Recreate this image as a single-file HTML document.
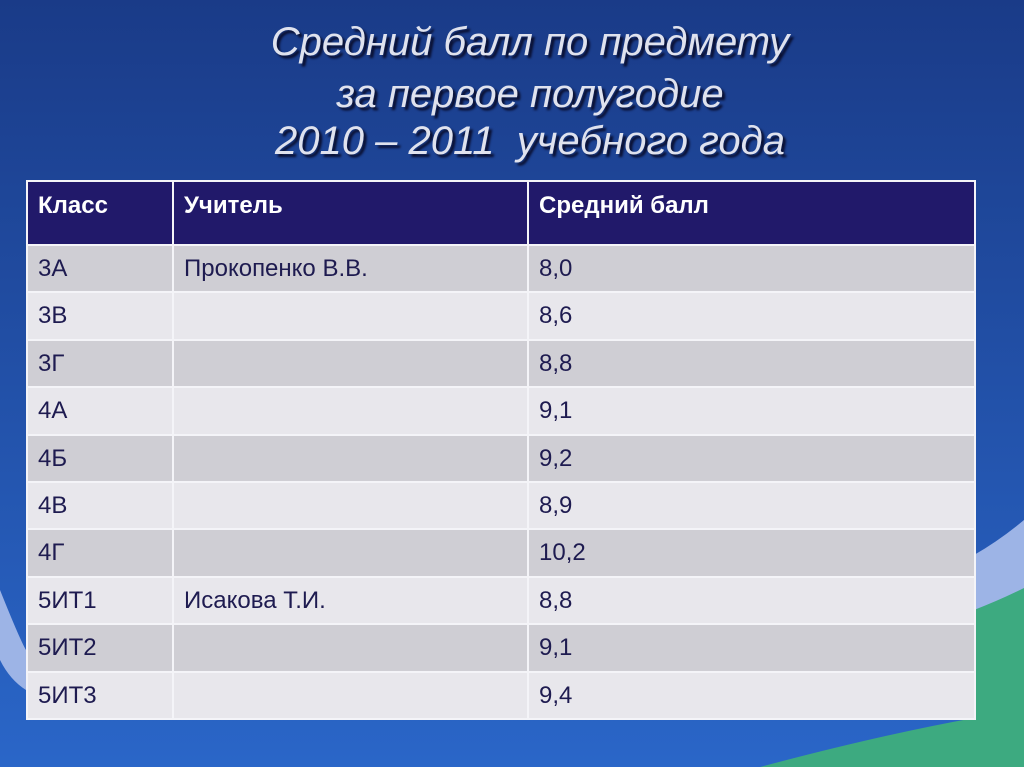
<!DOCTYPE html>
<html><head><meta charset="utf-8"><style>
body{margin:0;width:1024px;height:767px;overflow:hidden;font-family:"Liberation Sans","Noto Sans CJK SC",sans-serif;}
#bg{position:absolute;left:0;top:0}
.title{position:absolute;left:0;width:1060px;text-align:center;font-style:italic;font-size:40px;color:#dfe2ee;text-shadow:3px 3px 2px #0a0f30;}
table{position:absolute;left:26px;top:180px;border-collapse:collapse;}
td{border:2px solid #f4f4f8;font-size:24px;color:#1e1b50;padding:0 0 0 10px;vertical-align:top;padding-top:9px;box-sizing:border-box;height:47.4px;}
tr.h td{background:#21196a;color:#fff;font-weight:bold;height:64px;padding-top:10px;}
tr.d td{background:#cfced4}
tr.l td{background:#e8e7ec}
</style></head><body>
<svg id="bg" width="1024" height="767">
<defs><linearGradient id="g" x1="0" y1="0" x2="0" y2="1"><stop offset="0" stop-color="#1a3b88"/><stop offset="1" stop-color="#2a66c8"/></linearGradient></defs>
<rect width="1024" height="767" fill="url(#g)"/>
<path d="M0,590 Q20,640 26,650 L26,690 Q10,680 0,660Z" fill="#9db4e6"/>
<path d="M974,555 Q1000,540 1024,520 L1024,767 L974,767Z" fill="#9db4e6"/>
<path d="M974,610 Q1000,600 1024,588 L1024,767 L974,767Z" fill="#3daa80"/>
<path d="M760,767 Q880,735 974,718 L974,767Z" fill="#3daa80"/>
</svg>
<div class="title" style="top:20px">Средний балл по предмету</div>
<div class="title" style="top:72px">за первое полугодие</div>
<div class="title" style="top:119px">2010 – 2011&nbsp; учебного года</div>
<table>
<tr class="h"><td style="width:146px">Класс</td><td style="width:355px">Учитель</td><td style="width:447px">Средний балл</td></tr>
<tr class="d"><td>3А</td><td>Прокопенко В.В.</td><td>8,0</td></tr>
<tr class="l"><td>3В</td><td></td><td>8,6</td></tr>
<tr class="d"><td>3Г</td><td></td><td>8,8</td></tr>
<tr class="l"><td>4А</td><td></td><td>9,1</td></tr>
<tr class="d"><td>4Б</td><td></td><td>9,2</td></tr>
<tr class="l"><td>4В</td><td></td><td>8,9</td></tr>
<tr class="d"><td>4Г</td><td></td><td>10,2</td></tr>
<tr class="l"><td>5ИТ1</td><td>Исакова Т.И.</td><td>8,8</td></tr>
<tr class="d"><td>5ИТ2</td><td></td><td>9,1</td></tr>
<tr class="l"><td>5ИТ3</td><td></td><td>9,4</td></tr>
</table>
</body></html>
